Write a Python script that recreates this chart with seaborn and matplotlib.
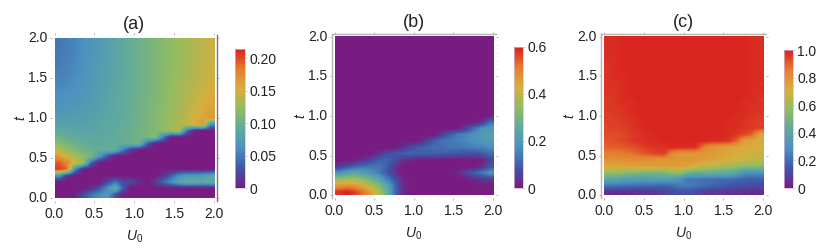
import numpy as np
import pandas as pd
import matplotlib
matplotlib.use("Agg")
import matplotlib.pyplot as plt
from matplotlib.colors import LinearSegmentedColormap
import seaborn as sns

# rows run from t = 1.96 down to t = 0.04, columns from U0 = 0.05 to 1.95
t_rows = [1.96, 1.88, 1.80, 1.72, 1.64, 1.56, 1.48, 1.40, 1.32, 1.24, 1.16, 1.08, 1.00,
          0.92, 0.84, 0.76, 0.68, 0.60, 0.52, 0.44, 0.36, 0.28, 0.20, 0.12, 0.04]
u_cols = [0.05, 0.15, 0.25, 0.35, 0.45, 0.55, 0.65, 0.75, 0.85, 0.95,
          1.05, 1.15, 1.25, 1.35, 1.45, 1.55, 1.65, 1.75, 1.85, 1.95]

# panel (a), in units of 0.001
a_vals = [
    [47, 51, 56, 61, 67, 73, 79, 85, 91, 96, 101, 106, 111, 116, 121, 126, 131, 136, 141, 146],
    [48, 51, 56, 61, 67, 73, 79, 85, 91, 96, 101, 106, 111, 116, 121, 126, 131, 136, 141, 146],
    [49, 52, 56, 62, 67, 73, 79, 85, 91, 96, 101, 106, 111, 116, 121, 126, 131, 136, 141, 146],
    [50, 53, 57, 62, 68, 73, 79, 85, 91, 96, 101, 106, 111, 116, 121, 126, 131, 136, 141, 146],
    [51, 54, 58, 63, 68, 74, 80, 85, 91, 96, 101, 106, 111, 116, 121, 126, 131, 136, 142, 147],
    [53, 55, 59, 64, 69, 75, 80, 85, 91, 96, 101, 106, 111, 116, 121, 126, 132, 137, 143, 148],
    [55, 57, 61, 65, 70, 75, 81, 86, 91, 96, 101, 106, 111, 116, 122, 127, 133, 138, 144, 149],
    [57, 59, 62, 66, 71, 76, 81, 86, 92, 96, 101, 106, 111, 117, 122, 128, 134, 140, 146, 151],
    [60, 62, 64, 68, 72, 77, 82, 87, 92, 97, 101, 106, 112, 117, 123, 129, 135, 141, 148, 154],
    [63, 64, 66, 70, 74, 78, 83, 88, 92, 97, 102, 107, 112, 118, 124, 130, 136, 143, 150, 156],
    [66, 67, 69, 72, 75, 79, 84, 88, 93, 97, 102, 107, 112, 118, 124, 131, 138, 145, 152, 158],
    [70, 70, 72, 74, 77, 81, 85, 89, 93, 98, 102, 107, 113, 119, 125, 132, 139, 147, 155, 162],
    [75, 75, 76, 78, 80, 84, 87, 90, 94, 98, 102, 107, 113, 119, 126, 133, 141, 150, 158, 167],
    [82, 80, 80, 81, 83, 85, 88, 91, 95, 99, 103, 108, 114, 120, 127, 135, 145, 155, 166, 60],
    [92, 88, 85, 84, 85, 87, 89, 92, 96, 100, 104, 109, 115, 121, 129, 138, 45, 0, 0, 0],
    [102, 96, 92, 90, 89, 90, 91, 93, 96, 100, 104, 109, 115, 55, 0, 0, 0, 0, 0, 0],
    [118, 108, 101, 97, 93, 92, 93, 95, 97, 100, 105, 40, 0, 0, 0, 0, 0, 0, 0, 0],
    [138, 124, 112, 104, 99, 97, 96, 97, 50, 15, 0, 0, 0, 0, 0, 0, 0, 0, 0, 0],
    [168, 150, 132, 118, 110, 70, 30, 0, 0, 0, 0, 0, 0, 0, 0, 0, 0, 0, 0, 0],
    [195, 175, 150, 130, 40, 0, 0, 0, 0, 0, 0, 0, 0, 0, 0, 0, 0, 0, 0, 0],
    [205, 190, 60, 5, 0, 0, 0, 0, 0, 0, 0, 0, 0, 0, 0, 0, 0, 0, 0, 0],
    [70, 15, 0, 0, 0, 0, 0, 0, 0, 0, 0, 0, 0, 10, 35, 60, 70, 70, 75, 85],
    [0, 0, 0, 0, 0, 0, 20, 45, 25, 25, 10, 0, 15, 40, 60, 85, 95, 95, 90, 95],
    [0, 0, 0, 0, 10, 30, 60, 95, 35, 0, 0, 0, 0, 0, 0, 0, 0, 0, 0, 0],
    [0, 0, 5, 25, 45, 60, 70, 30, 0, 0, 0, 0, 0, 0, 0, 0, 0, 0, 0, 0],
]

# panel (b), in units of 0.01
b_vals = [[0] * 20 for row in t_rows[:13]] + [
    [0, 0, 0, 0, 0, 0, 0, 0, 0, 0, 0, 0, 0, 0, 0, 0, 0, 0, 2, 12],
    [0, 0, 0, 0, 0, 0, 0, 0, 0, 0, 0, 0, 0, 0, 0, 0, 5, 12, 17, 20],
    [0, 0, 0, 0, 0, 0, 0, 0, 0, 0, 0, 0, 0, 5, 10, 14, 16, 18, 20, 22],
    [0, 0, 0, 0, 0, 0, 0, 0, 0, 0, 0, 5, 10, 13, 14, 15, 16, 18, 19, 21],
    [0, 0, 0, 0, 0, 0, 0, 0, 3, 7, 10, 11, 12, 12, 13, 13, 14, 15, 15, 17],
    [0, 0, 0, 0, 0, 3, 7, 9, 10, 11, 10, 10, 10, 10, 9, 9, 8, 8, 9, 12],
    [0, 0, 1, 3, 6, 10, 11, 8, 4, 2, 0, 0, 0, 0, 0, 0, 0, 0, 1, 6],
    [4, 7, 10, 12, 13, 13, 10, 4, 0, 0, 0, 0, 0, 0, 0, 0, 0, 0, 3, 8],
    [18, 22, 24, 22, 18, 14, 9, 4, 0, 0, 0, 0, 0, 0, 0, 2, 6, 10, 14, 18],
    [34, 36, 36, 33, 29, 23, 15, 8, 2, 0, 0, 0, 0, 0, 0, 0, 1, 3, 4, 5],
    [46, 48, 47, 43, 38, 32, 24, 12, 3, 0, 0, 0, 0, 0, 0, 0, 0, 0, 0, 0],
    [58, 60, 57, 52, 46, 38, 28, 12, 3, 0, 0, 0, 0, 0, 0, 0, 0, 0, 0, 0],
]

# panel (c), in units of 0.01
c_vals = [
    [98, 98, 99, 99, 99, 99, 99, 99, 99, 99, 99, 99, 99, 99, 99, 99, 99, 99, 98, 98],
    [98, 98, 99, 99, 99, 99, 99, 99, 99, 99, 99, 99, 99, 99, 99, 99, 99, 99, 98, 98],
    [98, 98, 99, 99, 99, 99, 99, 99, 99, 99, 99, 99, 99, 99, 99, 99, 99, 99, 98, 98],
    [98, 98, 99, 99, 99, 99, 99, 99, 99, 99, 99, 99, 99, 99, 99, 99, 99, 99, 98, 98],
    [97, 98, 99, 99, 99, 99, 99, 99, 99, 99, 99, 99, 99, 99, 99, 99, 99, 99, 98, 98],
    [97, 98, 99, 99, 99, 99, 99, 99, 99, 99, 99, 99, 99, 99, 99, 99, 99, 99, 98, 98],
    [97, 98, 98, 99, 99, 99, 99, 99, 99, 99, 99, 99, 99, 99, 99, 99, 99, 99, 98, 98],
    [97, 97, 98, 99, 99, 99, 99, 99, 99, 99, 99, 99, 99, 99, 99, 99, 99, 99, 98, 98],
    [97, 97, 98, 99, 99, 99, 99, 99, 99, 99, 99, 99, 99, 99, 99, 99, 99, 99, 98, 98],
    [96, 97, 98, 99, 99, 99, 99, 99, 99, 99, 99, 99, 99, 99, 99, 99, 99, 99, 98, 97],
    [96, 97, 98, 98, 99, 99, 99, 99, 99, 99, 99, 99, 99, 99, 99, 99, 99, 98, 98, 97],
    [96, 96, 97, 98, 99, 99, 99, 99, 99, 99, 99, 99, 99, 99, 99, 99, 99, 98, 97, 97],
    [95, 96, 97, 98, 99, 99, 99, 99, 99, 99, 99, 99, 99, 99, 99, 99, 98, 98, 97, 96],
    [95, 95, 96, 97, 98, 99, 99, 99, 99, 99, 99, 99, 99, 99, 99, 98, 98, 97, 96, 95],
    [94, 95, 95, 97, 98, 99, 99, 99, 99, 99, 99, 99, 99, 99, 99, 98, 98, 97, 96, 95],
    [93, 93, 94, 96, 97, 98, 99, 99, 99, 99, 99, 99, 99, 99, 99, 98, 97, 94, 90, 74],
    [92, 93, 94, 96, 97, 98, 98, 99, 99, 99, 99, 99, 99, 98, 98, 97, 90, 76, 74, 72],
    [90, 90, 91, 92, 94, 96, 97, 97, 98, 98, 98, 97, 84, 78, 76, 75, 74, 73, 72, 71],
    [85, 85, 86, 87, 90, 92, 94, 95, 82, 78, 78, 78, 78, 77, 76, 74, 72, 70, 69, 68],
    [80, 80, 80, 80, 80, 79, 78, 78, 78, 78, 78, 78, 76, 75, 73, 72, 70, 68, 67, 66],
    [74, 74, 74, 75, 75, 76, 76, 76, 76, 76, 74, 70, 67, 64, 62, 60, 58, 56, 55, 54],
    [58, 57, 55, 54, 52, 50, 50, 52, 55, 58, 48, 46, 46, 45, 44, 43, 40, 30, 30, 30],
    [42, 40, 38, 36, 35, 35, 36, 36, 36, 30, 22, 22, 21, 21, 20, 20, 19, 18, 17, 17],
    [22, 22, 21, 21, 20, 20, 19, 18, 20, 24, 24, 22, 20, 18, 17, 15, 14, 13, 12, 12],
    [5, 5, 5, 5, 6, 6, 7, 9, 11, 13, 13, 11, 9, 8, 7, 6, 6, 5, 5, 5],
]

titles = ["(a)", "(b)", "(c)"]
scales = [0.001, 0.01, 0.01]
vmaxes = [0.214, 0.6, 1.0]
cbar_ticks = [[0, 0.05, 0.10, 0.15, 0.20], [0, 0.2, 0.4, 0.6], [0, 0.2, 0.4, 0.6, 0.8, 1.0]]
cbar_labels = [["0", "0.05", "0.10", "0.15", "0.20"], ["0", "0.2", "0.4", "0.6"],
               ["0", "0.2", "0.4", "0.6", "0.8", "1.0"]]
axis_ticks = [0.0, 0.5, 1.0, 1.5, 2.0]
axis_labels = ["0.0", "0.5", "1.0", "1.5", "2.0"]
minor_axis_ticks = [0.1, 0.2, 0.3, 0.4, 0.6, 0.7, 0.8, 0.9, 1.1, 1.2, 1.3, 1.4, 1.6, 1.7, 1.8, 1.9]
rainbow = ["#781C81", "#3F56A7", "#4B91C0", "#5FAA9F", "#91BD61", "#D8AF3D", "#E77C30", "#D92120"]

# pixel boxes of the plot areas and colour bars: left, right, top, bottom
plot_boxes = [(54.5, 214, 38.5, 198), (334.5, 493, 37, 195), (604, 763, 37, 195)]
cbar_boxes = [(235, 245, 49, 188), (514, 523, 47, 188), (784, 793, 50, 188)]
frame_sides = [["right"], ["left", "top"], ["left", "top"]]
frame_colors = ["#777777", "#b5b5b5", "#b5b5b5"]
PAD = 3.0
W, H = 831, 249

sns.set_theme(style="white")
plt.rcParams["font.family"] = ["Liberation Sans", "DejaVu Sans"]
plt.rcParams["mathtext.fontset"] = "custom"
plt.rcParams["mathtext.it"] = "Liberation Sans:italic"
plt.rcParams["mathtext.rm"] = "Liberation Sans"

cmap = LinearSegmentedColormap.from_list("rainbow_mma", rainbow)
fig = plt.figure(figsize=(W / 100, H / 100), dpi=100)


def box_axes(left, right, top, bottom):
    return fig.add_axes([left / W, 1 - bottom / H, (right - left) / W, (bottom - top) / H])


for vals, scale, vmax, box, cbox, title, cticks, clabels, sides, fcolor in zip(
        [a_vals, b_vals, c_vals], scales, vmaxes, plot_boxes, cbar_boxes, titles,
        cbar_ticks, cbar_labels, frame_sides, frame_colors):
    left, right, top, bottom = box
    # the axes frame sits a few pixels outside the coloured area
    ax = box_axes(left - PAD, right + PAD, top - PAD, bottom + PAD)
    cax = box_axes(*cbox)

    df = pd.DataFrame(np.array(vals) * scale, index=t_rows, columns=u_cols)
    sns.heatmap(df, ax=ax, cbar_ax=cax, cmap=cmap, vmin=0, vmax=vmax)

    # smooth the cells the way the density plot does, on top of the heatmap mesh
    ax.imshow(df.values, cmap=cmap, vmin=0, vmax=vmax, aspect="auto", zorder=2,
              interpolation="bilinear", extent=(0, len(u_cols), len(t_rows), 0))

    x_per_u = len(u_cols) / 2.0
    y_per_t = len(t_rows) / 2.0
    pad_x = PAD * len(u_cols) / (right - left)
    pad_y = PAD * len(t_rows) / (bottom - top)
    ax.set_xlim(-pad_x, len(u_cols) + pad_x)
    ax.set_ylim(len(t_rows) + pad_y, -pad_y)

    ax.set_xticks([v * x_per_u for v in axis_ticks])
    ax.set_xticklabels(axis_labels, rotation=0, fontsize=10, color="#222222")
    ax.set_yticks([(2 - v) * y_per_t for v in axis_ticks])
    ax.set_yticklabels(axis_labels, rotation=0, fontsize=10, color="#222222")
    ax.set_xticks([v * x_per_u for v in minor_axis_ticks], minor=True)
    ax.set_yticks([(2 - v) * y_per_t for v in minor_axis_ticks], minor=True)
    ax.tick_params(which="major", length=1.5, width=0.5, color="#999999", pad=1.5,
                   top=True, right=True, bottom=True, left=True)
    ax.tick_params(axis="x", which="major", pad=3)
    ax.tick_params(which="minor", length=0.8, width=0.4, color="#bbbbbb",
                   top=True, right=True, bottom=True, left=True)
    for side in ax.spines:
        ax.spines[side].set_visible(side in sides)
        ax.spines[side].set_color(fcolor)
        ax.spines[side].set_linewidth(1.0)

    ax.set_xlabel("$U_0$", fontsize=10, labelpad=5, color="#222222")
    ax.set_ylabel("$t$", fontsize=10, labelpad=0, color="#222222")
    ax.set_title(title, fontsize=13, pad=5, color="#222222")

    cbar = ax.collections[0].colorbar
    cbar.set_ticks(cticks)
    cbar.set_ticklabels(clabels)
    cbar.ax.tick_params(length=1.5, width=0.4, color="#aaaaaa", pad=1.5, labelsize=10,
                        labelcolor="#222222")
    cbar.outline.set_visible(True)
    cbar.outline.set_edgecolor("#d9b8d9")
    cbar.outline.set_linewidth(0.5)

fig.savefig("out.png", dpi=100)
